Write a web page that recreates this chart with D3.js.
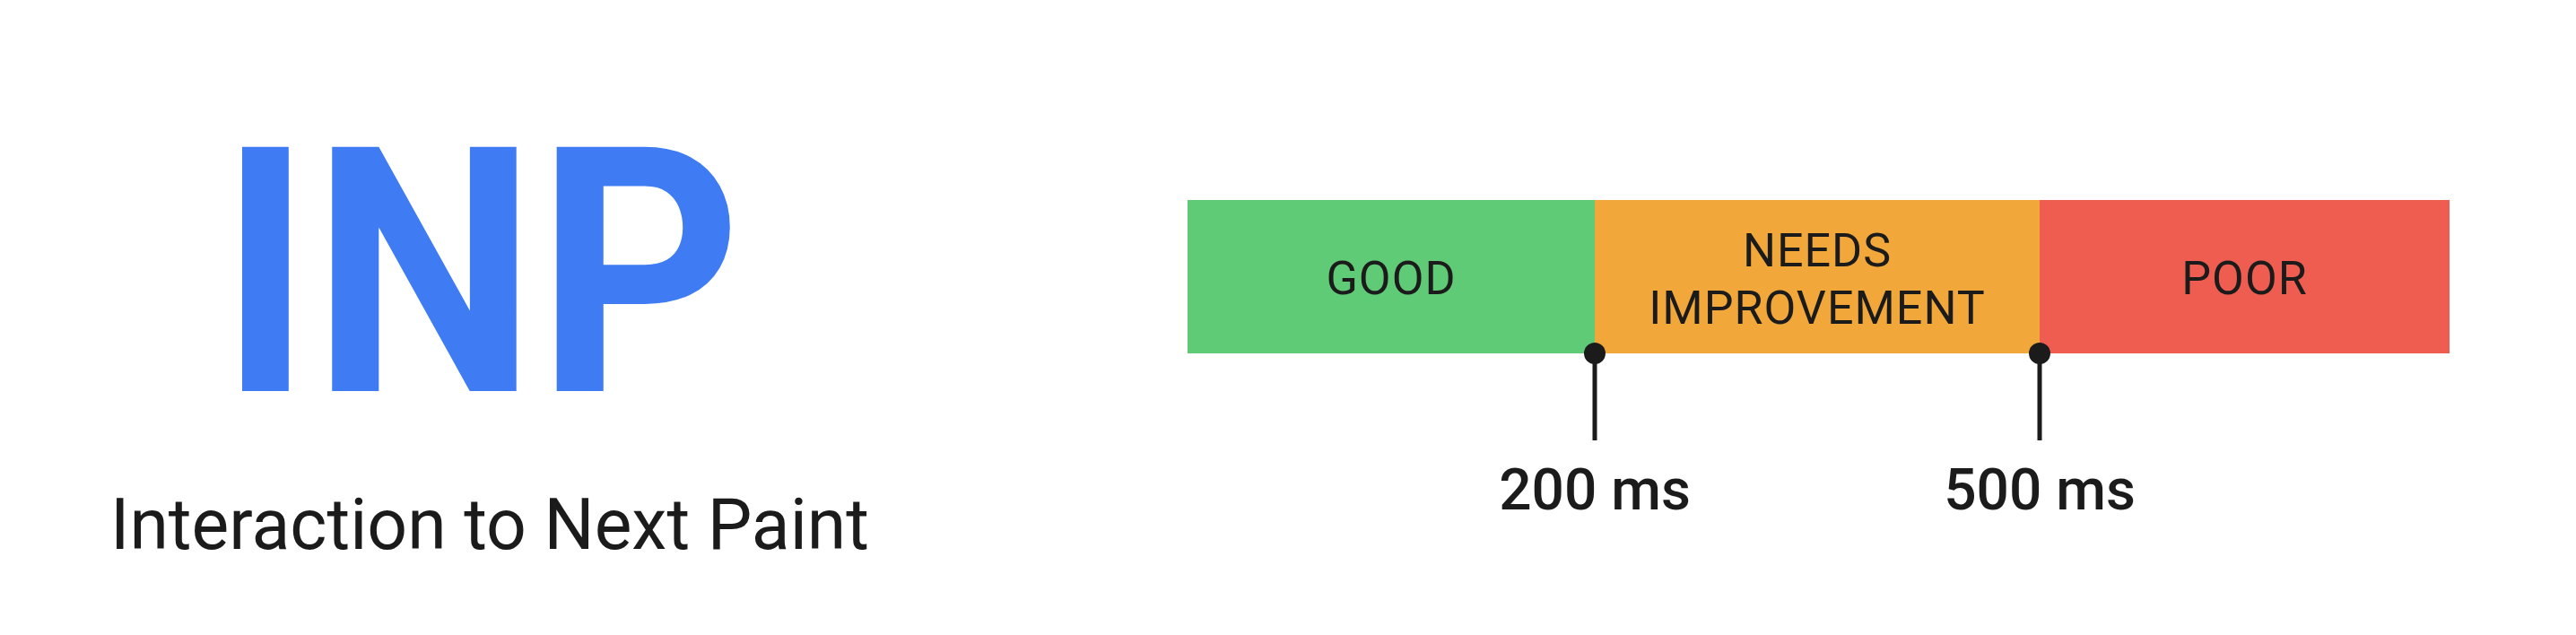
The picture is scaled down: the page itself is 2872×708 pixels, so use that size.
<html>
<head>
<script src="https://d3js.org/d3.v7.min.js"></script>
<style>
body { margin: 0; background: #fff; overflow: hidden; }
</style>
</head>
<body>
<svg id="chart" width="2872" height="708"></svg>
<script>
// thresholds for INP, in ms
const bands = ["GOOD", "NEEDS IMPROVEMENT", "POOR"];
const bandStart = [0, 200, 500];
const bandEnd = [200, 500, 800];
const bandColors = ["#5fcb76", "#f2a73b", "#ee5d50"];
const thresholds = [200, 500];
const thresholdLabels = ["200 ms", "500 ms"];

const svg = d3.select("#chart");
const ink = "#1b1b1b";

// the bar segments are not proportional, so piecewise scale
const x = d3.scaleLinear().domain([0, 200, 500, 800]).range([1324, 1778, 2274, 2731]);
const barTop = 223, barBottom = 394;

// title block
svg.append("text")
	.attr("x", 244).attr("y", 436)
	.attr("textLength", 583).attr("lengthAdjust", "spacingAndGlyphs")
	.style("font-family", "Roboto").style("font-weight", 700)
	.style("font-size", "383px").style("fill", "#3f7cf4")
	.text("INP");

svg.append("text")
	.attr("x", 123).attr("y", 612)
	.attr("textLength", 846).attr("lengthAdjust", "spacingAndGlyphs")
	.style("font-family", "Roboto").style("font-size", "80px").style("fill", ink)
	.text("Interaction to Next Paint");

// bands
const g = svg.append("g");
g.selectAll("rect").data(bands).join("rect")
	.attr("x", (d, i) => x(bandStart[i]))
	.attr("width", (d, i) => x(bandEnd[i]) - x(bandStart[i]))
	.attr("y", barTop).attr("height", barBottom - barTop)
	.attr("fill", (d, i) => bandColors[i]);

const mid = (barTop + barBottom) / 2;
g.selectAll("text.band").data(bands).join("text")
	.attr("class", "band")
	.attr("x", (d, i) => (x(bandStart[i]) + x(bandEnd[i])) / 2)
	.attr("text-anchor", "middle")
	.style("font-family", "Roboto").style("font-size", "52px")
	.style("letter-spacing", "1px").style("fill", ink)
	.each(function(d) {
		const words = d.split(" ");
		const t = d3.select(this);
		if (words.length == 1) {
			t.attr("y", mid + 19).text(d);
		} else {
			words.forEach((w, k) => t.append("tspan")
				.attr("x", t.attr("x")).attr("y", 297 + k * 64).text(w));
		}
	});

// threshold markers
const m = svg.append("g").selectAll("g").data(thresholds).join("g");
m.append("line")
	.attr("x1", d => x(d)).attr("x2", d => x(d))
	.attr("y1", barBottom).attr("y2", 491)
	.attr("stroke", ink).attr("stroke-width", 5);
m.append("circle")
	.attr("cx", d => x(d)).attr("cy", barBottom).attr("r", 12)
	.attr("fill", ink);
m.append("text")
	.attr("x", d => x(d)).attr("y", 568)
	.attr("text-anchor", "middle")
	.style("font-family", "Roboto").style("font-weight", 500)
	.style("font-size", "64px").style("fill", ink)
	.text((d, i) => thresholdLabels[i]);
</script>
</body>
</html>
